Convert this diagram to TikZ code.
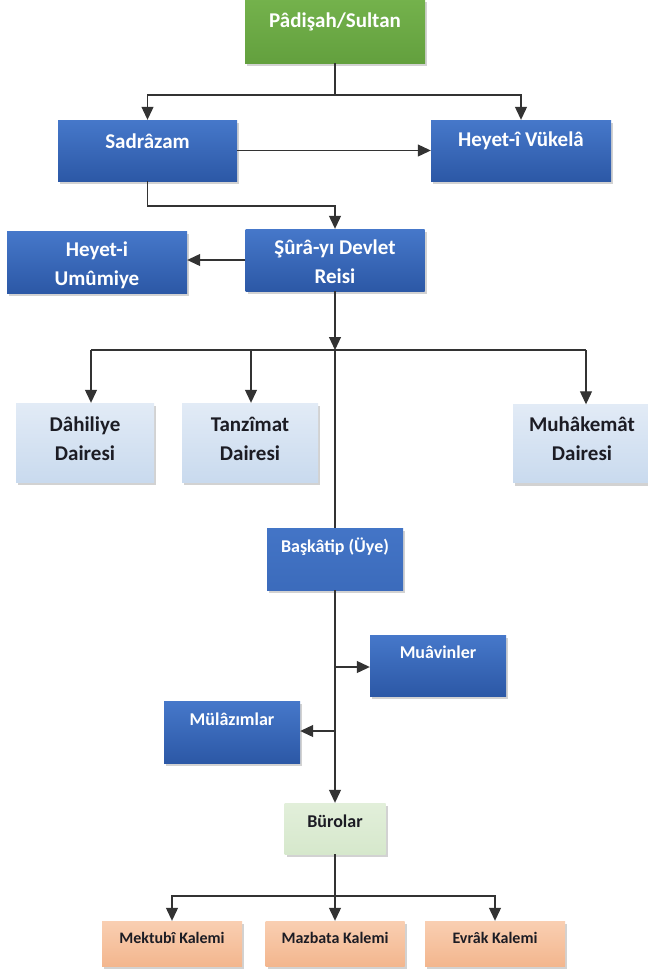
\documentclass[tikz,border=0pt]{standalone}
\usepackage{fontspec}
\setmainfont{Carlito}
\usetikzlibrary{arrows.meta,shadows}
\definecolor{linec}{HTML}{333333}
\definecolor{bluetop}{HTML}{4678CA}
\definecolor{bluebot}{HTML}{2C58A6}
\definecolor{greentop}{HTML}{74B24C}
\definecolor{greenbot}{HTML}{63A03E}
\definecolor{lbtop}{HTML}{E2EBF6}
\definecolor{lbbot}{HTML}{C9DAEE}
\definecolor{lgreen}{HTML}{E2EFDA}
\definecolor{lgreenbot}{HTML}{D6E8CC}
\definecolor{peachtop}{HTML}{F9CFB2}
\definecolor{peachbot}{HTML}{F3B68E}
\definecolor{darktxt}{HTML}{1C1C24}
\begin{document}
\begin{tikzpicture}[x=1pt,y=-1pt,
  basebox/.style={rectangle,draw=none,inner sep=0pt,
    drop shadow={opacity=0.35,shadow xshift=2pt,shadow yshift=-3pt}},
  bluebox/.style={basebox,top color=bluetop,bottom color=bluebot},
  greenbox/.style={basebox,top color=greentop,bottom color=greenbot},
  lbbox/.style={basebox,top color=lbtop,bottom color=lbbot},
  lgbox/.style={basebox,top color=lgreen,bottom color=lgreenbot},
  peachbox/.style={basebox,top color=peachtop,bottom color=peachbot},
  sz/.style 2 args={minimum width=#1pt,minimum height=#2pt},
  wbig/.style={text=white,align=center,font=\fontsize{21}{29}\selectfont\bfseries},
  dbig/.style={text=darktxt,align=center,font=\fontsize{21}{29}\selectfont\bfseries},
  wmid/.style={text=white,font=\fontsize{18}{22}\selectfont\bfseries},
  dmid/.style={text=darktxt,font=\fontsize{18}{22}\selectfont\bfseries},
  dsmall/.style={text=darktxt,font=\fontsize{16}{20}\selectfont\bfseries},
  conn/.style={draw=linec,line width=1.1pt},
  arr/.style={conn,-{Triangle[width=12pt,length=13pt]}}
]
\useasboundingbox (0,0) rectangle (648,975);
\fill[white] (0,0) rectangle (648,975);

% boxes
\node[greenbox,sz={180}{64}] (pad) at (335,31) {};
\node[bluebox,sz={179}{61}] (sad) at (147.5,150.5) {};
\node[bluebox,sz={180}{61}] (hey) at (521,150.5) {};
\node[bluebox,sz={179}{62}] (sura) at (335,260) {};
\node[bluebox,sz={180}{62}] (umu) at (97,262) {};
\node[lbbox,sz={138}{79}] (dah) at (85,442.5) {};
\node[lbbox,sz={136}{79}] (tan) at (250,442.5) {};
\node[lbbox,sz={138}{78}] (muh) at (582,443.5) {};
\node[bluebox,sz={136}{62},top color=bluetop!90!bluebot,bottom color=bluetop!60!bluebot] (bas) at (335,559) {};
\node[bluebox,sz={136}{61}] (muv) at (438,665.5) {};
\node[bluebox,sz={136}{62}] (mul) at (232,732) {};
\node[lgbox,sz={101}{51}] (bur) at (335,828.5) {};
\node[peachbox,sz={140}{45}] (mek) at (172,943.5) {};
\node[peachbox,sz={139}{45}] (maz) at (335,943.5) {};
\node[peachbox,sz={140}{45}] (evr) at (495,943.5) {};

% texts
\node[wbig] (padT) at (335,22) {Pâdişah/Sultan};
\node[wbig] (sadT) at (147.5,141) {Sadrâzam};
\node[wbig] (heyT) at (521,141) {Heyet-î Vükelâ};
\node[wbig] (suraT) at (335,262) {Şûrâ-yı Devlet\\Reisi};
\node[wbig] (umuT) at (97,265) {Heyet-i\\Umûmiye};
\node[dbig] (dahT) at (85,438.5) {Dâhiliye\\Dairesi};
\node[dbig] (tanT) at (250,438.5) {Tanzîmat\\Dairesi};
\node[dbig] (muhT) at (582,439) {Muhâkemât\\Dairesi};
\node[wmid] (basT) at (335,547) {Başkâtip (Üye)};
\node[wmid] (muvT) at (438,652) {Muâvinler};
\node[wmid] (mulT) at (232,719) {Mülâzımlar};
\node[dmid] (burT) at (335,821) {Bürolar};
\node[dsmall] (mekT) at (172,938) {Mektubî Kalemi};
\node[dsmall] (mazT) at (335,938) {Mazbata Kalemi};
\node[dsmall] (evrT) at (495,938) {Evrâk Kalemi};

% junctions
\coordinate (j1) at (335,95);
\coordinate (j2) at (335,206);
\coordinate (j3) at (335,350);
\coordinate (dL) at (91,350);
\coordinate (tM) at (251,350);
\coordinate (mR) at (586,350);
\coordinate (m1) at (335,667);
\coordinate (m2) at (335,731);
\coordinate (j4) at (335,896);

% connectors
\draw[conn] (pad.south) -- (j1);
\draw[arr] (j1) -| (sad.north);
\draw[arr] (j1) -| (hey.north);
\draw[arr] (sad.east) -- (hey.west);
\draw[arr] (sad.south) |- (j2) -- (sura.north);
\draw[arr] (sura.west) -- (sura.west -| umu.east);
\draw[arr] (sura.south) -- (j3);
\draw[conn] (dL) -- (mR);
\draw[arr] (dL) -- (dL |- dah.north);
\draw[arr] (tM) -- (tM |- tan.north);
\draw[arr] (mR) -- (mR |- muh.north);
\draw[conn] (j3) -- (bas.north);
\draw[arr] (bas.south) -- (bur.north);
\draw[arr] (m1) -- (m1 -| muv.west);
\draw[arr] (m2) -- (m2 -| mul.east);
\draw[conn] (bur.south) -- (j4);
\draw[arr] (j4) -| (mek.north);
\draw[arr] (j4) -- (maz.north);
\draw[arr] (j4) -| (evr.north);
\end{tikzpicture}
\end{document}
